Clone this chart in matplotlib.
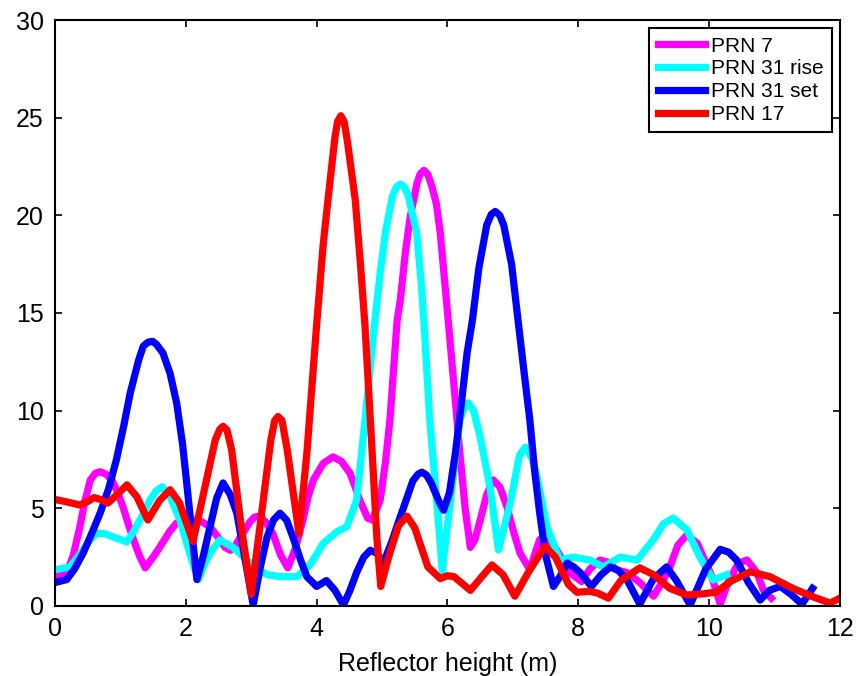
import numpy as np
import matplotlib
matplotlib.use('Agg')
import matplotlib.pyplot as plt

plt.rcParams['font.family'] = ['Liberation Sans', 'DejaVu Sans']

# PRN 7 (magenta)
x_prn7 = [0.0, 0.18, 0.28, 0.38, 0.46, 0.54, 0.62, 0.69, 0.78, 0.87, 0.96, 1.04, 1.13, 1.22,
          1.3, 1.38, 1.5, 1.6, 1.75, 1.86, 2.0, 2.11, 2.25, 2.37, 2.52, 2.6, 2.68, 2.76, 2.83,
          2.98, 3.05, 3.13, 3.22, 3.33, 3.45, 3.56, 3.68, 3.79, 3.87, 3.95, 4.1, 4.25, 4.38,
          4.51, 4.6, 4.66, 4.78, 4.85, 4.97, 5.05, 5.12, 5.23, 5.28, 5.36, 5.43, 5.53, 5.58,
          5.64, 5.7, 5.76, 5.83, 5.89, 6.02, 6.12, 6.19, 6.27, 6.35, 6.42, 6.5, 6.6, 6.7, 6.8,
          6.91, 7.01, 7.11, 7.26, 7.34, 7.41, 7.52, 7.67, 7.87, 8.05, 8.18, 8.33, 8.45, 8.59,
          8.75, 8.94, 9.15, 9.28, 9.4, 9.52, 9.66, 9.82, 9.95, 10.02, 10.17, 10.3, 10.45,
          10.58, 10.73, 10.83, 10.95]
y_prn7 = [1.5, 1.7, 2.6, 4.05, 5.4, 6.45, 6.8, 6.87, 6.75, 6.45, 5.8, 5.07, 4.1, 3.2,
          2.5, 1.95, 2.5, 3.0, 3.8, 4.25, 4.4, 4.4, 4.3, 4.05, 3.4, 3.0, 2.85, 3.1, 3.5,
          4.3, 4.55, 4.6, 4.3, 3.7, 2.6, 1.95, 3.0, 4.4, 5.6, 6.45, 7.3, 7.63, 7.4,
          6.8, 6.0, 5.4, 4.5, 4.4, 5.4, 7.3, 9.5, 14.6, 15.7, 18.2, 19.9, 21.6, 22.1,
          22.3, 22.1, 21.5, 20.6, 19.1, 14.3, 10.5, 7.8, 5.0, 3.0, 3.4, 4.4, 5.7, 6.45, 6.1,
          5.07, 3.8, 2.7, 1.85, 2.7, 3.4, 3.3, 2.87, 1.7, 1.25, 1.9, 2.35, 2.25, 1.85,
          1.7, 1.2, 0.5, 1.2, 2.0, 3.1, 3.64, 3.2, 2.2, 1.7, 0.1, 1.3, 2.2,
          2.35, 1.7, 0.8, 0.4]

# PRN 31 rise (cyan)
x_31rise = [0.0, 0.23, 0.43, 0.54, 0.64, 0.76, 0.89, 1.1, 1.2, 1.3, 1.45, 1.55, 1.64, 1.76,
            1.91, 2.06, 2.19, 2.28, 2.37, 2.52, 2.72, 2.94, 3.09, 3.25, 3.44, 3.7, 3.9, 4.1,
            4.31, 4.46, 4.61, 4.74, 4.88, 4.97, 5.05, 5.16, 5.22, 5.28, 5.34, 5.4, 5.53, 5.6,
            5.65, 5.73, 5.86, 5.92, 6.04, 6.19, 6.26, 6.32, 6.4, 6.5, 6.65, 6.78, 6.96, 7.1,
            7.19, 7.3, 7.37, 7.52, 7.72, 7.92, 8.18, 8.38, 8.64, 8.9, 9.15, 9.3, 9.45, 9.66,
            9.86, 10.06, 10.27]
y_31rise = [1.85, 2.0, 2.87, 3.4, 3.73, 3.7, 3.53, 3.28, 3.8, 4.4, 5.4, 5.9, 6.1, 5.6,
            4.4, 2.7, 1.35, 2.1, 2.7, 3.38, 3.0, 2.35, 1.85, 1.6, 1.5, 1.5, 2.1, 3.2,
            3.8, 4.05, 5.4, 9.5, 14.3, 17.0, 19.1, 21.0, 21.45, 21.6, 21.45, 21.0, 19.1, 16.5,
            14.0, 9.5, 4.4, 1.8, 5.27, 9.5, 10.2, 10.4, 10.0, 8.65, 6.1, 2.87, 5.27, 7.7,
            8.14, 7.5, 6.6, 4.05, 2.35, 2.5, 2.35, 2.0, 2.5, 2.35, 3.4, 4.2, 4.5, 3.9,
            2.5, 1.33, 1.6]

# PRN 31 set (blue)
x_31set = [0.0, 0.18, 0.3, 0.43, 0.56, 0.69, 0.82, 0.94, 1.05, 1.15, 1.28, 1.35, 1.42, 1.49,
           1.55, 1.65, 1.76, 1.86, 1.95, 2.02, 2.1, 2.17, 2.27, 2.37, 2.47, 2.57, 2.68, 2.78,
           2.9, 3.03, 3.14, 3.24, 3.34, 3.44, 3.54, 3.64, 3.75, 3.85, 4.0, 4.15, 4.28, 4.41,
           4.51, 4.61, 4.72, 4.82, 4.92, 5.02, 5.15, 5.25, 5.33, 5.47, 5.55, 5.61, 5.68, 5.75,
           5.89, 5.94, 6.03, 6.12, 6.2, 6.3, 6.38, 6.48, 6.6, 6.67, 6.73, 6.8, 6.86, 6.98,
           7.08, 7.17, 7.26, 7.33, 7.41, 7.5, 7.62, 7.72, 7.83, 7.93, 8.03, 8.2, 8.35, 8.49,
           8.62, 8.75, 8.94, 9.15, 9.35, 9.5, 9.71, 9.95, 10.17, 10.3, 10.42, 10.6, 10.78,
           10.92, 11.09, 11.25, 11.42, 11.58]
y_31set = [1.2, 1.35, 1.9, 2.7, 3.7, 4.75, 6.0, 7.5, 9.2, 10.9, 12.6, 13.3, 13.5, 13.55,
           13.4, 12.95, 11.9, 10.4, 8.3, 6.1, 3.5, 1.35, 2.6, 4.05, 5.5, 6.3, 5.7, 4.75,
           2.5, 0.05, 2.0, 3.5, 4.4, 4.75, 4.4, 3.5, 2.4, 1.5, 1.0, 1.3, 0.8, 0.05,
           0.8, 1.7, 2.5, 2.85, 2.7, 2.2, 3.3, 4.3, 5.05, 6.4, 6.75, 6.85, 6.7, 6.3,
           5.2, 4.9, 5.8, 7.8, 10.0, 12.95, 14.6, 17.3, 19.5, 20.05, 20.2, 20.0, 19.5, 17.5,
           14.6, 12.0, 9.5, 7.0, 4.75, 2.6, 1.0, 1.5, 2.2, 2.0, 1.7, 1.0, 1.6, 2.0,
           1.8, 1.3, 0.1, 1.4, 2.0, 1.3, 0.05, 1.9, 2.9, 2.75, 2.35, 1.2, 0.3,
           0.8, 1.0, 0.6, 0.1, 0.9]

# PRN 17 (red)
x_prn17 = [0.0, 0.15, 0.38, 0.5, 0.6, 0.7, 0.81, 0.95, 1.1, 1.25, 1.42, 1.6, 1.76, 1.9,
           2.11, 2.3, 2.45, 2.52, 2.57, 2.63, 2.7, 2.85, 3.0, 3.15, 3.3, 3.36, 3.41, 3.47,
           3.55, 3.73, 3.85, 4.0, 4.1, 4.18, 4.28, 4.32, 4.37, 4.42, 4.47, 4.59, 4.67, 4.74,
           4.85, 4.92, 4.98, 5.1, 5.25, 5.38, 5.5, 5.7, 5.89, 6.0, 6.1, 6.35, 6.5, 6.68,
           6.85, 7.03, 7.25, 7.49, 7.65, 7.85, 7.98, 8.18, 8.3, 8.46, 8.65, 8.94, 9.15, 9.4,
           9.66, 9.9, 10.1, 10.35, 10.63, 10.93, 11.28, 11.6, 11.85, 11.97]
y_prn17 = [5.45, 5.35, 5.17, 5.35, 5.55, 5.45, 5.27, 5.7, 6.2, 5.6, 4.4, 5.4, 5.95, 5.3,
           3.3, 6.2, 8.5, 9.05, 9.2, 9.0, 8.0, 4.0, 0.6, 4.5, 8.5, 9.5, 9.7, 9.5,
           8.0, 3.7, 7.8, 14.4, 18.5, 21.0, 24.0, 24.8, 25.1, 24.8, 23.8, 20.8, 17.5, 14.3,
           7.8, 3.5, 1.0, 2.5, 4.1, 4.6, 4.0, 2.0, 1.4, 1.55, 1.5, 0.8, 1.4, 2.1,
           1.6, 0.5, 1.8, 3.05, 2.5, 1.1, 0.7, 0.75, 0.65, 0.4, 1.3, 1.95, 1.6, 0.9,
           0.56, 0.62, 0.7, 1.3, 1.75, 1.5, 0.9, 0.45, 0.15, 0.35]

fig = plt.figure(figsize=(8.63, 6.76), dpi=100)
ax = fig.add_axes([0.0637, 0.1036, 0.9096, 0.8668])

ax.plot(x_prn7, y_prn7, color='#ff00ff', lw=5.2, label='PRN 7', solid_joinstyle='round')
ax.plot(x_31rise, y_31rise, color='#00ffff', lw=5.2, label='PRN 31 rise', solid_joinstyle='round')
ax.plot(x_31set, y_31set, color='#0000ff', lw=5.2, label='PRN 31 set', solid_joinstyle='round')
ax.plot(x_prn17, y_prn17, color='#ff0000', lw=5.2, label='PRN 17', solid_joinstyle='round')

ax.set_xlim(0, 12)
ax.set_ylim(0, 30)
ax.set_xticks(np.arange(0, 13, 2))
ax.set_yticks(np.arange(0, 31, 5))
ax.tick_params(direction='in', top=True, right=True, length=5, width=1.2,
               labelsize=18, pad=8)
for s in ax.spines.values():
    s.set_linewidth(1.5)

ax.set_xlabel('Reflector height (m)', fontsize=18, labelpad=8)

leg = ax.legend(loc='upper right', fontsize=15, fancybox=False, framealpha=1,
                edgecolor='black', borderaxespad=0.4, handlelength=2.3,
                labelspacing=0.18, borderpad=0.4, handletextpad=0.25)
leg.get_frame().set_linewidth(1.5)

fig.savefig('out.png', dpi=100)
